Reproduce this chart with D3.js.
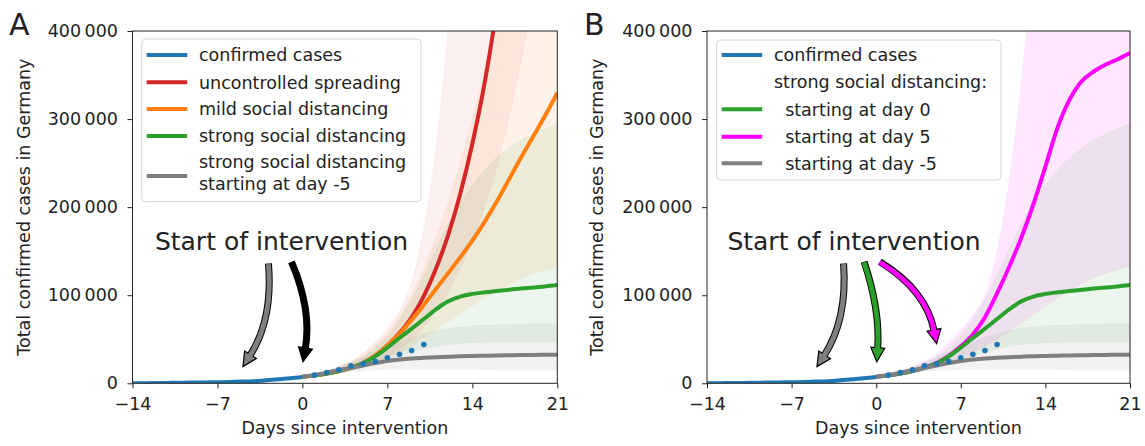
<!DOCTYPE html>
<html>
<head>
<meta charset="utf-8">
<script src="https://cdn.jsdelivr.net/npm/d3@7"></script>
<style>
  body { margin: 0; background: #fff; }
  svg text { font-family: "DejaVu Sans", sans-serif; fill: #222; }
</style>
</head>
<body>
<svg id="chart" width="1145" height="446"></svg>
<script>
// -----------------------
// data
// -----------------------

var xTicks = [-14, -7, 0, 7, 14, 21];
var yTicks = [0, 100000, 200000, 300000, 400000];

// confirmed cases, solid part
var obsDays = [-14, -13, -12, -11, -10, -9, -8, -7, -6, -5, -4, -3, -2, -1, 0];
var obsCases = [159, 196, 262, 482, 670, 799, 1040, 1176, 1457, 1908, 2400, 3400, 4585, 5795, 7272];

// confirmed cases after the intervention (dots)
var dotDays = [1, 2, 3, 4, 5, 6, 7, 8, 9, 10];
var dotCases = [9257, 12327, 15320, 19848, 22213, 24873, 29056, 32986, 37323, 43938];

var modelDays = [0, 1, 2, 3, 4, 5, 6, 7, 8, 9, 10, 11, 12, 13, 14, 15, 16, 17, 18, 19, 20, 21];

// uncontrolled spreading
var uncontrolled = [7300, 9000, 11200, 14000, 17800, 23000, 31500, 43000, 57000, 75000, 99000, 130000, 168000, 215000, 272000, 340000, 425000, 530000, 670000, 850000, 1070000, 1350000];
var uncontrolledLo = [7000, 8500, 10300, 12500, 15200, 18500, 23500, 30000, 39000, 50000, 64000, 82000, 104000, 130000, 162000, 200000, 245000, 300000, 365000, 440000, 530000, 640000];
var uncontrolledHi = [7600, 10000, 13500, 18500, 25000, 34000, 47000, 62000, 82000, 115000, 174000, 265000, 400000, 600000, 900000, 1300000, 1800000, 2000000, 2000000, 2000000, 2000000, 2000000];

// mild social distancing
var mild = [7300, 9000, 11200, 14000, 17800, 23000, 31500, 43000, 56000, 72000, 89000, 107000, 125000, 143000, 162000, 183000, 206000, 231000, 256000, 280000, 304000, 330000];
var mildLo = [7000, 8500, 10300, 12500, 15000, 18000, 22500, 28000, 35000, 43000, 52000, 61000, 70000, 79000, 88000, 97000, 105000, 112000, 119000, 125000, 129000, 133000];
var mildHi = [7600, 10000, 13500, 18500, 25000, 33000, 44000, 58000, 76000, 100000, 130000, 165000, 205000, 250000, 300000, 355000, 415000, 480000, 550000, 630000, 720000, 820000];

// strong social distancing, starting at day 0
var strong = [7300, 9000, 11200, 14000, 17800, 22800, 30500, 40500, 51500, 62000, 73000, 84000, 93000, 98500, 101500, 103300, 104800, 106200, 107600, 108800, 110000, 111500];
var strongLo = [7000, 8500, 10200, 12300, 14800, 17800, 21500, 26000, 31000, 35500, 39000, 42000, 44000, 45300, 46000, 46500, 46800, 47000, 47200, 47300, 47400, 47500];
var strongHi = [7600, 9800, 12800, 17000, 22500, 30000, 40000, 54000, 72000, 95000, 122000, 152000, 180000, 205000, 225000, 242000, 256000, 267000, 276000, 283000, 289000, 295000];

// strong social distancing, starting at day -5
var early = [7300, 9500, 12000, 14800, 17500, 20200, 23000, 25300, 27000, 28200, 29000, 29700, 30200, 30600, 31000, 31300, 31600, 31800, 32000, 32200, 32400, 32500];
var earlyLo = [7000, 8700, 10500, 12200, 13600, 14600, 15300, 15700, 15900, 16000, 16000, 15900, 15800, 15700, 15600, 15500, 15400, 15300, 15200, 15100, 15000, 15000];
var earlyHi = [7600, 10500, 14000, 18500, 23500, 29000, 35000, 41000, 47000, 52000, 56000, 59500, 62000, 63800, 65000, 65800, 66300, 66700, 67000, 67200, 67400, 67500];

// strong social distancing, starting at day 5
var late = [7300, 9000, 11200, 14000, 17800, 23000, 31000, 42000, 55500, 75000, 102000, 132000, 165000, 203000, 246000, 290000, 322000, 343000, 354000, 362000, 368000, 375000];
var lateLo = [7000, 8500, 10300, 12500, 15200, 18500, 23000, 28500, 35000, 42000, 50000, 59000, 68000, 78000, 88000, 97000, 105000, 113000, 120000, 125000, 129000, 133000];
var lateHi = [7600, 10000, 13500, 18500, 25000, 33000, 46000, 60000, 78000, 100000, 150000, 230000, 340000, 480000, 650000, 850000, 1000000, 1200000, 1200000, 1200000, 1200000, 1200000];

var legendA = [
  { label: ['confirmed cases'], color: '#1f77b4' },
  { label: ['uncontrolled spreading'], color: '#d62728' },
  { label: ['mild social distancing'], color: '#ff7f0e' },
  { label: ['strong social distancing'], color: '#2ca02c' },
  { label: ['strong social distancing', 'starting at day -5'], color: '#7f7f7f' }
];
var legendB = [
  { label: ['confirmed cases'], color: '#1f77b4' },
  { label: ['strong social distancing:'], color: null },
  { label: ['  starting at day 0'], color: '#2ca02c' },
  { label: ['  starting at day 5'], color: '#ff00ff' },
  { label: ['  starting at day -5'], color: '#7f7f7f' }
];

// ---------
// rendering
// ---------

var svg = d3.select('#chart');
var TOP = 31, BOTTOM = 383.3;
var FONT = 17.5;

var fmtY = d3.formatLocale({ decimal: '.', thousands: '\u2009', grouping: [3], currency: ['', ''], minus: '\u2212' }).format(',d');
var fmtX = d3.formatLocale({ decimal: '.', thousands: ',', grouping: [3], currency: ['', ''], minus: '\u2212' }).format('d');

var toRows = function (values) {
  return modelDays.map(function (d, i) { return { day: d, v: values[i] }; });
};
var toBand = function (lo, hi) {
  return modelDays.map(function (d, i) { return { day: d, lo: lo[i], hi: hi[i] }; });
};

// curved annotation arrow with black outline
var drawArrow = function (g, x0, y0, x1, y1, bend, fill) {
  var dx = x1 - x0, dy = y1 - y0, len = Math.hypot(dx, dy);
  var cx = (x0 + x1) / 2 + bend * dy / len;
  var cy = (y0 + y1) / 2 - bend * dx / len;
  var tx = x1 - cx, ty = y1 - cy, tl = Math.hypot(tx, ty);
  var ux = tx / tl, uy = ty / tl;
  var headLen = 14, headW = 7;
  var bx = x1 - ux * headLen, by = y1 - uy * headLen;

  var body = d3.path();
  body.moveTo(x0, y0);
  body.quadraticCurveTo(cx, cy, bx + ux * 1.5, by + uy * 1.5);

  g.append('path').attr('d', body.toString())
    .attr('fill', 'none').attr('stroke', '#000').attr('stroke-width', 7);
  g.append('path')
    .attr('d', 'M' + x1 + ',' + y1 +
      'L' + (bx - uy * headW) + ',' + (by + ux * headW) +
      'L' + (bx + uy * headW) + ',' + (by - ux * headW) + 'Z')
    .attr('fill', fill).attr('stroke', '#000').attr('stroke-width', 1.2).attr('stroke-linejoin', 'miter');
  body = d3.path();
  body.moveTo(x0, y0 + 0.6);
  body.quadraticCurveTo(cx, cy, bx + ux * 1.5, by + uy * 1.5);
  g.append('path').attr('d', body.toString())
    .attr('fill', 'none').attr('stroke', fill).attr('stroke-width', 5);
};

var drawPanel = function (cfg) {
  var g = svg.append('g');
  var x = d3.scaleLinear().domain([-14, 21]).range([cfg.left, cfg.right]);
  var y = d3.scaleLinear().domain([0, 400000]).range([BOTTOM, TOP]);

  svg.append('clipPath').attr('id', 'clip-' + cfg.id)
    .append('rect')
    .attr('x', cfg.left).attr('y', TOP)
    .attr('width', cfg.right - cfg.left).attr('height', BOTTOM - TOP);

  var plot = g.append('g').attr('clip-path', 'url(#clip-' + cfg.id + ')');

  var area = d3.area().curve(d3.curveMonotoneX)
    .x(function (d) { return x(d.day); })
    .y0(function (d) { return y(d.lo); })
    .y1(function (d) { return y(d.hi); });
  var line = d3.line().curve(d3.curveMonotoneX)
    .x(function (d) { return x(d.day); })
    .y(function (d) { return y(d.v); });

  // credible intervals
  cfg.bands.forEach(function (b) {
    plot.append('path').datum(toBand(b.lo, b.hi))
      .attr('d', area)
      .attr('fill', b.color)
      .attr('fill-opacity', b.alpha)
      .attr('stroke', b.color)
      .attr('stroke-opacity', 0.05);
  });

  // model medians
  cfg.lines.forEach(function (l) {
    plot.append('path').datum(toRows(l.values))
      .attr('d', line)
      .attr('fill', 'none')
      .attr('stroke', l.color)
      .attr('stroke-width', 4);
  });

  // confirmed cases
  plot.append('path')
    .datum(obsDays.map(function (d, i) { return { day: d, v: obsCases[i] }; }))
    .attr('d', line)
    .attr('fill', 'none')
    .attr('stroke', '#1f77b4')
    .attr('stroke-width', 4);

  plot.selectAll('circle.dot')
    .data(dotDays.map(function (d, i) { return { day: d, v: dotCases[i] }; }))
    .enter().append('circle')
    .attr('class', 'dot')
    .attr('cx', function (d) { return x(d.day); })
    .attr('cy', function (d) { return y(d.v); })
    .attr('r', 2.8)
    .attr('fill', '#1f77b4');

  // axes
  var xAxis = g.append('g')
    .attr('transform', 'translate(0,' + BOTTOM + ')')
    .call(d3.axisBottom(x).tickValues(xTicks).tickFormat(fmtX).tickSize(5).tickPadding(9));
  var yAxis = g.append('g')
    .attr('transform', 'translate(' + cfg.left + ',0)')
    .call(d3.axisLeft(y).tickValues(yTicks).tickFormat(fmtY).tickSize(5).tickPadding(9.5));
  [xAxis, yAxis].forEach(function (a) {
    a.select('.domain').remove();
    a.selectAll('text').attr('font-size', FONT).attr('font-family', null).attr('fill', '#222');
    a.selectAll('line').attr('stroke', '#222');
  });

  g.append('rect')
    .attr('x', cfg.left).attr('y', TOP)
    .attr('width', cfg.right - cfg.left).attr('height', BOTTOM - TOP)
    .attr('fill', 'none').attr('stroke', '#222').attr('stroke-width', 1);

  g.append('text')
    .attr('x', (cfg.left + cfg.right) / 2).attr('y', 434)
    .attr('text-anchor', 'middle').attr('font-size', FONT)
    .text('Days since intervention');

  g.append('text')
    .attr('transform', 'translate(' + cfg.titleX + ',' + (TOP + BOTTOM) / 2 + ') rotate(-90)')
    .attr('text-anchor', 'middle').attr('font-size', FONT)
    .text('Total confirmed cases in Germany');

  g.append('text')
    .attr('x', cfg.letterX).attr('y', 35)
    .attr('font-size', 30)
    .text(cfg.letter);

  // annotation
  g.append('text')
    .attr('x', cfg.noteX).attr('y', 249.5)
    .attr('text-anchor', 'middle').attr('font-size', 25)
    .text('Start of intervention');

  cfg.arrows.forEach(function (a) {
    drawArrow(g, x(a.tail[0]), y(a.tail[1]), x(a.tip[0]), y(a.tip[1]), a.bend, a.fill);
  });

  // legend
  var lg = g.append('g');
  lg.append('rect')
    .attr('x', cfg.legend.x).attr('y', cfg.legend.y)
    .attr('width', cfg.legend.w).attr('height', cfg.legend.h)
    .attr('rx', 4)
    .attr('fill', '#fff').attr('fill-opacity', 0.8)
    .attr('stroke', '#d6d6d6').attr('stroke-width', 1);
  cfg.legend.items.forEach(function (item, i) {
    var ry = cfg.legend.rows[i];
    if (item.color) {
      lg.append('line')
        .attr('x1', cfg.legend.x + 5).attr('x2', cfg.legend.x + 45.5)
        .attr('y1', ry.handle).attr('y2', ry.handle)
        .attr('stroke', item.color).attr('stroke-width', 4);
    }
    item.label.forEach(function (txt, j) {
      lg.append('text')
        .attr('x', cfg.legend.x + 57.3).attr('y', ry.text[j])
        .attr('dy', '0.36em')
        .attr('font-size', FONT)
        .style('white-space', 'pre')
        .text(txt);
    });
  });
};

drawPanel({
  id: 'a', letter: 'A', letterX: 9, left: 132.5, right: 557.3, titleX: 29.5, noteX: 281.5,
  bands: [
    { lo: uncontrolledLo, hi: uncontrolledHi, color: '#d62728', alpha: 0.07 },
    { lo: mildLo, hi: mildHi, color: '#ff7f0e', alpha: 0.09 },
    { lo: strongLo, hi: strongHi, color: '#2ca02c', alpha: 0.09 },
    { lo: earlyLo, hi: earlyHi, color: '#7f7f7f', alpha: 0.1 }
  ],
  lines: [
    { values: uncontrolled, color: '#d62728' },
    { values: mild, color: '#ff7f0e' },
    { values: strong, color: '#2ca02c' },
    { values: early, color: '#7f7f7f' }
  ],
  arrows: [
    { tail: [-2.8, 136000], tip: [-4.9, 19000], bend: 18, fill: '#7f7f7f' },
    { tail: [-0.9, 138000], tip: [0.05, 24500], bend: 15, fill: '#000' }
  ],
  legend: {
    x: 141.7, y: 39, w: 279.3, h: 162.7, items: legendA,
    rows: [
      { handle: 55, text: [55] }, { handle: 82.3, text: [82.3] }, { handle: 109, text: [109] },
      { handle: 136, text: [136] }, { handle: 176, text: [161.7, 183.3] }
    ]
  }
});

drawPanel({
  id: 'b', letter: 'B', letterX: 584, left: 707, right: 1130, titleX: 602.5, noteX: 854,
  bands: [
    { lo: lateLo, hi: lateHi, color: '#ff00ff', alpha: 0.09 },
    { lo: strongLo, hi: strongHi, color: '#2ca02c', alpha: 0.09 },
    { lo: earlyLo, hi: earlyHi, color: '#7f7f7f', alpha: 0.1 }
  ],
  lines: [
    { values: late, color: '#ff00ff' },
    { values: strong, color: '#2ca02c' },
    { values: early, color: '#7f7f7f' }
  ],
  arrows: [
    { tail: [-2.7, 136000], tip: [-4.9, 19000], bend: 18, fill: '#7f7f7f' },
    { tail: [-1.0, 138000], tip: [0.05, 24500], bend: 10, fill: '#2ca02c' },
    { tail: [0.3, 138000], tip: [5.0, 45000], bend: 22, fill: '#ff00ff' }
  ],
  legend: {
    x: 716.7, y: 40, w: 284.3, h: 140, items: legendB,
    rows: [
      { handle: 55, text: [55] }, { handle: 81.7, text: [81.7] }, { handle: 109.3, text: [109.3] },
      { handle: 136.7, text: [136.7] }, { handle: 163.3, text: [163.3] }
    ]
  }
});
</script>
</body>
</html>
